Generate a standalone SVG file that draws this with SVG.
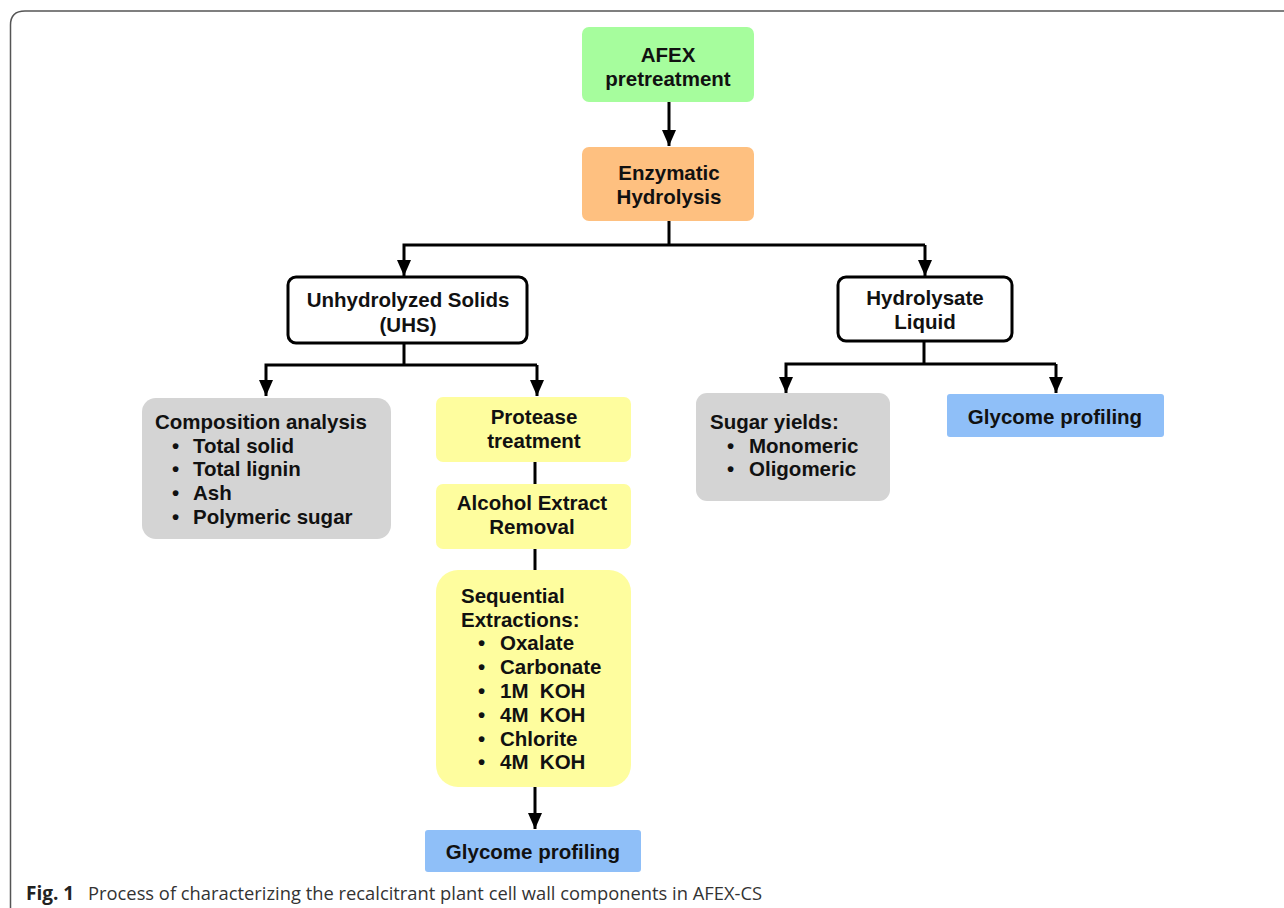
<svg xmlns="http://www.w3.org/2000/svg" width="1284" height="908" viewBox="0 0 1284 908">
<defs>
<style>
.t{font-family:"Liberation Sans",Arial,sans-serif;font-weight:bold;font-size:20.5px;fill:#111;white-space:pre}
.c{text-anchor:middle}
.ln{stroke:#000;stroke-width:3;fill:none}
</style>
<marker id="a" markerWidth="16" markerHeight="14" refX="16" refY="7" orient="auto" markerUnits="userSpaceOnUse" viewBox="0 0 16 14">
<path d="M0,0 L16,7 L0,14 Z" fill="#000"/>
</marker>
</defs>
<rect width="1284" height="908" fill="#fff"/>
<path d="M10.5,908 V25 Q10.5,11 25,11 H1284" fill="none" stroke="#555" stroke-width="1.5"/>

<g id="connectors">
<path class="ln" d="M669,102 V146" marker-end="url(#a)"/>
<path class="ln" d="M669,221 V245"/>
<path class="ln" d="M925,245 H404 V276" marker-end="url(#a)"/>
<path class="ln" d="M925,245 V276" marker-end="url(#a)"/>
<path class="ln" d="M404,343 V365"/>
<path class="ln" d="M537,365 H266 V396" marker-end="url(#a)"/>
<path class="ln" d="M537,365 V396" marker-end="url(#a)"/>
<path class="ln" d="M535,462 V484"/>
<path class="ln" d="M535,549 V570"/>
<path class="ln" d="M535,787 V829" marker-end="url(#a)"/>
<path class="ln" d="M924,341 V364"/>
<path class="ln" d="M1056,364 H786 V393" marker-end="url(#a)"/>
<path class="ln" d="M1056,364 V393" marker-end="url(#a)"/>
</g>

<g id="afex">
<rect x="582" y="27" width="172" height="75" rx="7" fill="#a6fd9d"/>
<text class="t c" x="668" y="62">AFEX</text>
<text class="t c" x="668" y="86">pretreatment</text>
</g>
<g id="enzymatic">
<rect x="582" y="147" width="172" height="74" rx="7" fill="#fec080"/>
<text class="t c" x="669" y="180">Enzymatic</text>
<text class="t c" x="669" y="204">Hydrolysis</text>
</g>
<g id="uhs">
<rect x="288" y="277" width="239" height="66" rx="8" fill="#fff" stroke="#000" stroke-width="3"/>
<text class="t c" x="408" y="307">Unhydrolyzed Solids</text>
<text class="t c" x="408" y="332">(UHS)</text>
</g>
<g id="hydrolysate">
<rect x="838" y="277" width="174" height="64" rx="8" fill="#fff" stroke="#000" stroke-width="3"/>
<text class="t c" x="925" y="305">Hydrolysate</text>
<text class="t c" x="925" y="329">Liquid</text>
</g>
<g id="composition">
<rect x="142" y="398" width="249" height="141" rx="14" fill="#d4d4d4"/>
<text class="t" x="155" y="429">Composition analysis</text>
<text class="t" x="172" y="453">•</text><text class="t" x="193" y="453">Total solid</text>
<text class="t" x="172" y="476">•</text><text class="t" x="193" y="476">Total lignin</text>
<text class="t" x="172" y="500">•</text><text class="t" x="193" y="500">Ash</text>
<text class="t" x="172" y="524">•</text><text class="t" x="193" y="524">Polymeric sugar</text>
</g>
<g id="protease">
<rect x="436" y="397" width="195" height="65" rx="7" fill="#fefd9e"/>
<text class="t c" x="534" y="424">Protease</text>
<text class="t c" x="534" y="448">treatment</text>
</g>
<g id="alcohol">
<rect x="436" y="484" width="195" height="65" rx="7" fill="#fefd9e"/>
<text class="t c" x="532" y="510">Alcohol Extract</text>
<text class="t c" x="532" y="534">Removal</text>
</g>
<g id="sequential">
<rect x="436" y="570" width="195" height="217" rx="22" fill="#fefd9e"/>
<text class="t" x="461" y="603">Sequential</text>
<text class="t" x="461" y="627">Extractions:</text>
<text class="t" x="478" y="650">•</text><text class="t" x="500" y="650">Oxalate</text>
<text class="t" x="478" y="674">•</text><text class="t" x="500" y="674">Carbonate</text>
<text class="t" x="478" y="698">•</text><text class="t" x="500" y="698">1M&#160; KOH</text>
<text class="t" x="478" y="722">•</text><text class="t" x="500" y="722">4M&#160; KOH</text>
<text class="t" x="478" y="746">•</text><text class="t" x="500" y="746">Chlorite</text>
<text class="t" x="478" y="769">•</text><text class="t" x="500" y="769">4M&#160; KOH</text>
</g>
<g id="glycome-uhs">
<rect x="425" y="830" width="216" height="42" rx="3" fill="#8fbff8"/>
<text class="t c" x="533" y="859">Glycome profiling</text>
</g>
<g id="sugar">
<rect x="696" y="393" width="194" height="108" rx="11" fill="#d4d4d4"/>
<text class="t" x="710" y="429">Sugar yields:</text>
<text class="t" x="727" y="453">•</text><text class="t" x="749" y="453">Monomeric</text>
<text class="t" x="727" y="476">•</text><text class="t" x="749" y="476">Oligomeric</text>
</g>
<g id="glycome-liquid">
<rect x="947" y="394" width="217" height="43" rx="3" fill="#8fbff8"/>
<text class="t c" x="1055" y="424">Glycome profiling</text>
</g>
<g id="caption">
<text x="26" y="900" font-family="'Open Sans','Noto Sans',sans-serif" font-size="19" font-weight="bold" fill="#222">Fig. 1</text>
<text x="88" y="900" font-family="'Open Sans','Noto Sans',sans-serif" font-size="19" fill="#333" textLength="674" lengthAdjust="spacingAndGlyphs">Process of characterizing the recalcitrant plant cell wall components in AFEX-CS</text>
</g>
</svg>
